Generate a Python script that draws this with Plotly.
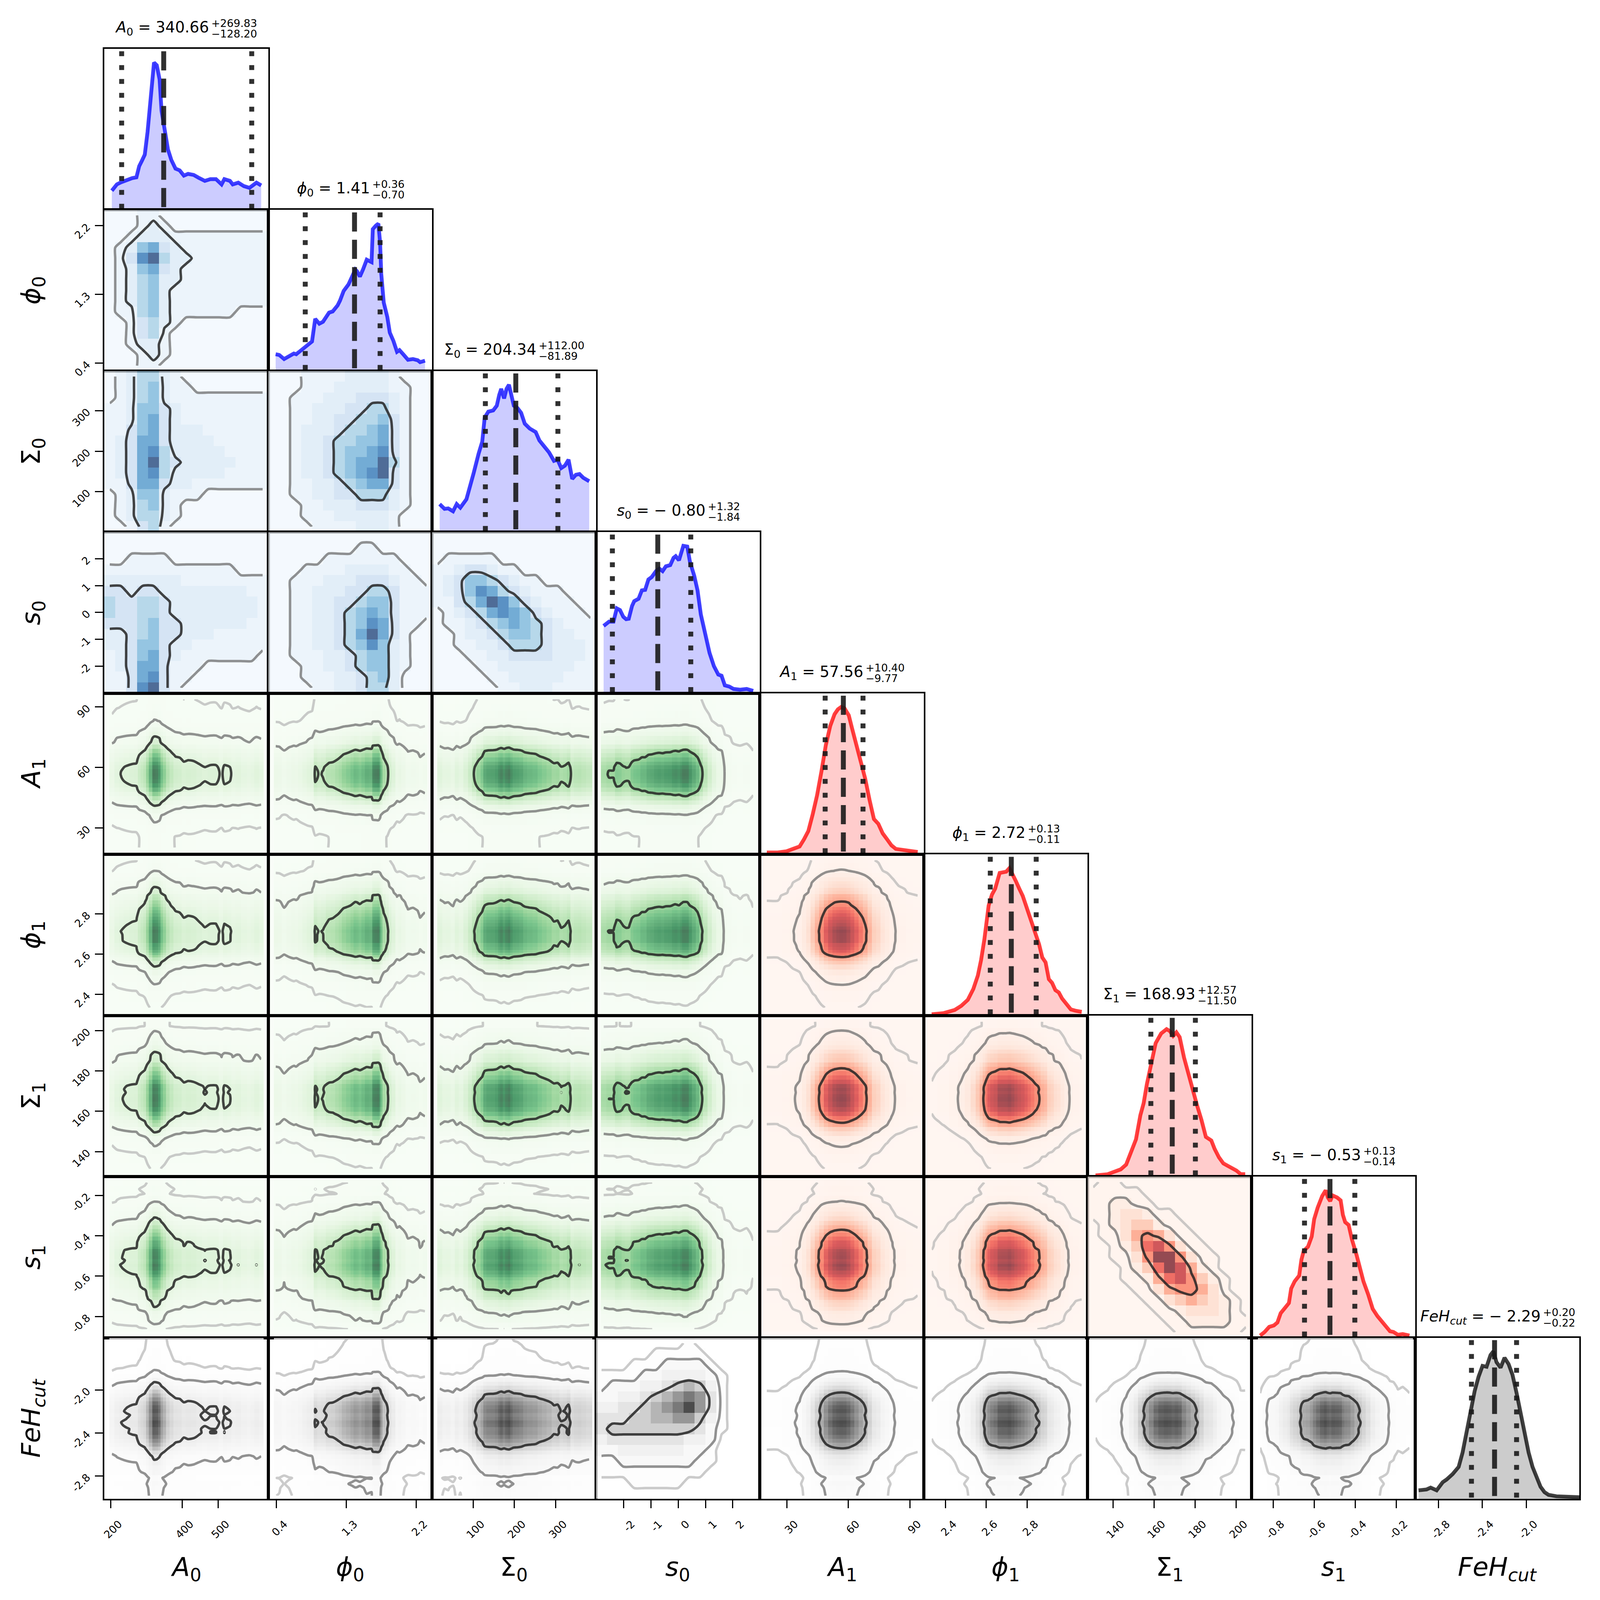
import numpy as np
import plotly.graph_objects as go

# ---------------------------------------------------------------- data
PARAM_SYMBOL = ["A", "ϕ", "Σ", "s", "A", "ϕ", "Σ", "s", "FeH"]
PARAM_INDEX = ["0", "0", "0", "0", "1", "1", "1", "1", "cut"]

MEDIAN = [340.66, 1.41, 204.34, -0.80, 57.56, 2.72, 168.93, -0.53, -2.29]
ERR_UP = [269.83, 0.36, 112.00, 1.32, 10.40, 0.13, 12.57, 0.13, 0.20]
ERR_DN = [128.20, 0.70, 81.89, 1.84, 9.77, 0.11, 11.50, 0.14, 0.22]

# vertical lines as drawn on the diagonal panels
Q_LO = [230.5, 0.774, 129.4, -2.409, 48.74, 2.620, 158.42, -0.647, -2.500]
Q_MID = [348.0, 1.408, 203.3, -0.747, 57.61, 2.723, 168.85, -0.523, -2.289]
Q_HI = [594.0, 1.737, 305.5, 0.461, 67.19, 2.845, 180.13, -0.402, -2.088]

AX_LO = [182.0, 0.297, 0.0, -3.01, 16.9, 2.294, 127.6, -0.905, -3.012]
AX_HI = [640.0, 2.406, 398.0, 2.99, 96.8, 3.097, 207.5, -0.107, -1.515]

TICK_VALS = [[200, 400, 500], [0.4, 1.3, 2.2], [100, 200, 300], [-2, -1, 0, 1, 2],
             [30, 60, 90], [2.4, 2.6, 2.8], [140, 160, 180, 200],
             [-0.8, -0.6, -0.4, -0.2], [-2.8, -2.4, -2.0]]
TICK_TEXT = [["200", "400", "500"], ["0.4", "1.3", "2.2"], ["100", "200", "300"],
             ["-2", "-1", "0", "1", "2"], ["30", "60", "90"], ["2.4", "2.6", "2.8"],
             ["140", "160", "180", "200"], ["-0.8", "-0.6", "-0.4", "-0.2"],
             ["-2.8", "-2.4", "-2.0"]]

# 1-D marginal curves (x position, height)
A0_X = [203.1, 217.1, 228.8, 244.4, 260.0, 271.7, 279.5, 287.3, 295.1, 302.9, 310.7, 320.9, 328.7,
        336.5, 342.0, 349.7, 359.9, 369.2, 381.0, 392.7, 404.4, 416.1, 431.7, 447.3, 462.9, 478.5,
        494.1, 509.7, 517.5, 533.1, 540.9, 556.5, 572.1, 587.7, 595.5, 607.2, 620.5]
A0_H = [55, 73, 79, 86, 91, 93, 125, 141, 158, 223, 313, 421, 413, 373, 283, 233, 173, 143, 118,
        113, 98, 103, 100, 91, 83, 88, 88, 73, 88, 83, 73, 78, 68, 63, 68, 78, 70]

PHI0_X = [0.393, 0.439, 0.502, 0.564, 0.627, 0.658, 0.705, 0.768, 0.815, 0.861, 0.902, 0.955, 1.002,
          1.080, 1.127, 1.190, 1.221, 1.268, 1.330, 1.377, 1.418, 1.440, 1.477, 1.518, 1.565, 1.627,
          1.643, 1.683, 1.715, 1.737, 1.752, 1.784, 1.830, 1.862, 1.909, 1.955, 1.987, 2.034, 2.096,
          2.159, 2.221, 2.252, 2.315]
PHI0_H = [70, 67, 50, 63, 73, 70, 83, 100, 115, 123, 217, 197, 205, 243, 248, 273, 293, 333, 360,
          390, 422, 415, 393, 423, 463, 453, 590, 605, 613, 535, 405, 285, 225, 160, 125, 80, 87,
          70, 47, 50, 45, 37, 43]

SIG0_X = [18.4, 30.3, 39.2, 50.9, 59.8, 68.6, 83.4, 92.3, 101.1, 113.0, 121.8, 127.7, 136.6, 148.4,
          157.2, 163.1, 167.9, 174.9, 180.8, 186.7, 192.7, 198.5, 207.4, 216.3, 225.1, 236.9, 251.7,
          260.6, 272.4, 284.2, 296.0, 304.8, 313.7, 322.6, 331.4, 340.3, 349.2, 358.0, 366.9, 381.6]
SIG0_H = [117, 97, 99, 87, 117, 102, 137, 187, 247, 327, 377, 477, 502, 507, 527, 572, 597, 557, 597,
          614, 567, 527, 517, 497, 452, 432, 417, 382, 357, 332, 297, 302, 267, 277, 302, 222, 239,
          242, 227, 212]

S0_X = [-2.730, -2.530, -2.369, -2.249, -2.129, -2.009, -1.906, -1.810, -1.690, -1.610, -1.450,
        -1.330, -1.210, -1.090, -0.971, -0.811, -0.691, -0.571, -0.451, -0.291, -0.171, -0.091,
        0.029, 0.109, 0.189, 0.333, 0.429, 0.589, 0.709, 0.829, 0.989, 1.148, 1.308, 1.468, 1.588,
        1.708, 1.868, 2.028, 2.267, 2.507, 2.747]
S0_H = [280, 298, 298, 353, 346, 318, 308, 310, 363, 383, 393, 428, 430, 473, 483, 508, 518, 508,
        528, 533, 563, 570, 553, 583, 613, 610, 548, 488, 428, 328, 238, 168, 113, 78, 73, 33, 28,
        18, 15, 18, 10]

A1_X = [20.28, 25.62, 29.88, 33.07, 36.27, 38.40, 40.53, 42.66, 44.80, 46.93, 49.06, 51.20, 53.33,
        54.93, 56.53, 58.13, 60.26, 61.86, 63.99, 66.12, 68.25, 70.39, 72.52, 74.66, 76.79, 78.93,
        81.05, 83.19, 86.38, 89.59, 93.85]
A1_H = [8, 8, 13, 23, 33, 63, 98, 168, 248, 348, 458, 538, 588, 608, 618, 613, 583, 528, 458, 388,
        318, 228, 148, 128, 88, 63, 38, 23, 18, 13, 10]

PHI1_X = [2.333, 2.392, 2.446, 2.478, 2.510, 2.537, 2.559, 2.575, 2.591, 2.601, 2.612, 2.628, 2.644,
          2.666, 2.682, 2.698, 2.714, 2.730, 2.746, 2.762, 2.779, 2.795, 2.811, 2.827, 2.843, 2.859,
          2.875, 2.891, 2.907, 2.923, 2.939, 2.956, 2.972, 2.993, 3.015, 3.036, 3.068]
PHI1_H = [5, 10, 23, 40, 65, 110, 165, 230, 315, 385, 455, 500, 525, 590, 593, 595, 610, 585, 555,
          525, 495, 455, 415, 375, 325, 295, 240, 220, 150, 135, 105, 95, 70, 45, 25, 20, 15]

SIG1_X = [131.47, 137.33, 140.52, 143.71, 146.38, 149.04, 151.17, 153.30, 154.90, 156.49, 158.63,
          160.76, 163.42, 166.09, 167.69, 169.28, 170.88, 172.47, 174.60, 176.74, 178.87, 180.99,
          183.12, 185.25, 187.91, 189.52, 191.64, 193.77, 195.90, 198.04, 200.17, 202.28, 204.42]
SIG1_H = [5, 10, 20, 30, 50, 105, 155, 255, 305, 385, 475, 555, 595, 613, 605, 585, 600, 580, 495,
          425, 365, 295, 235, 165, 150, 115, 80, 55, 45, 35, 25, 10, 10]

S1_X = [-0.863, -0.841, -0.819, -0.796, -0.779, -0.763, -0.740, -0.723, -0.712, -0.695, -0.673,
        -0.662, -0.651, -0.630, -0.612, -0.600, -0.583, -0.561, -0.544, -0.533, -0.522, -0.511,
        -0.488, -0.471, -0.460, -0.449, -0.432, -0.416, -0.393, -0.376, -0.360, -0.337, -0.315,
        -0.292, -0.270, -0.248, -0.231, -0.214, -0.192, -0.169, -0.136]
S1_H = [15, 40, 75, 85, 105, 170, 210, 240, 340, 390, 430, 540, 600, 630, 700, 820, 900, 980, 1020,
        970, 945, 985, 970, 950, 850, 800, 780, 680, 570, 480, 390, 300, 200, 150, 110, 80, 45, 40,
        20, 25, 15]

FEH_X = [-2.983, -2.910, -2.873, -2.818, -2.763, -2.727, -2.672, -2.617, -2.581, -2.544, -2.508,
         -2.471, -2.435, -2.399, -2.362, -2.326, -2.300, -2.271, -2.234, -2.198, -2.161, -2.125,
         -2.088, -2.051, -2.015, -1.978, -1.942, -1.906, -1.869, -1.833, -1.796, -1.723, -1.650,
         -1.577, -1.511]
FEH_H = [47, 52, 62, 47, 92, 107, 137, 177, 257, 377, 497, 597, 677, 737, 732, 797, 817, 757, 727,
         782, 747, 687, 587, 467, 357, 257, 177, 117, 67, 37, 22, 14, 12, 10, 9]

MARG_X = [A0_X, PHI0_X, SIG0_X, S0_X, A1_X, PHI1_X, SIG1_X, S1_X, FEH_X]
MARG_H = [A0_H, PHI0_H, SIG0_H, S0_H, A1_H, PHI1_H, SIG1_H, S1_H, FEH_H]

# shade codes of the 2-D histograms that are not simple products (15x15, top row first)
SHADE = [0.0, 0.02, 0.08, 0.15, 0.25, 0.38, 0.5, 0.65, 0.8, 1.0]

G_PHI0_A0 = ["111221111111111", "111232111111111", "112333222222222", "123674322222222",
             "124895332222222", "123674322222222", "123563322222222", "123563222222222",
             "123563222222222", "122563222222111", "112453211111111", "112452111111111",
             "112332111111111", "111232111111111", "111221111111111"]
G_SIG0_A0 = ["123553211111111", "123563221111111", "123563222222222", "223664322222222",
             "223674322222222", "224674333222222", "234774333322222", "234785333332222",
             "234795433333222", "234785333332222", "224774332222222", "123663222111111",
             "123563211111111", "123553211111111", "112452111111111"]
G_SIG0_PHI0 = ["111222233332111", "111222333332211", "112223334443211", "112233344553211",
               "112233445564211", "112333455674211", "112334556674211", "112334566784211",
               "112334567795211", "112334567894211", "112233456774211", "112233445553211",
               "111223334443211", "111222333332111", "111122223332111"]
G_S0_A0 = ["111111111111111", "111111111111111", "112222111111111", "222222222222111",
           "333333322222222", "443443333333322", "544554333333332", "544554333333332",
           "444564433333322", "334564433322222", "334664332222222", "234674322222221",
           "234774222111111", "224784221111111", "224894211111111"]
G_S0_PHI0 = ["111111111111111", "111111112211111", "111112222222111", "111222233332211",
             "112223334443221", "112233344554222", "112233445664222", "112233456764222",
             "112233456874221", "112233457974211", "112233456863211", "112223345663211",
             "111223345663211", "111222334563111", "111122334553111"]
G_S0_SIG0 = ["111111111111111", "111111111111111", "122222111111111", "223443221111111",
             "234665432211111", "234687543222111", "224579864322211", "123457876432221",
             "122345676543222", "112334566543322", "112233455543332", "111223344443332",
             "111122333333322", "111112233333222", "111111223332222"]
G_S1_SIG1 = ["011000000000000", "111110000000000", "112211000000000", "112332110000000",
             "012344211000000", "011356531100000", "001247863110000", "001136996311000",
             "000124798521000", "000112578642100", "000011356653100", "000001134543210",
             "000000112333210", "000000011222211", "000000001111110"]
G_FEH_S0 = ["000000001000000", "000001111100000", "000111222210000", "111122333321000",
            "122233456531000", "223345678741000", "334456789741000", "444556677531000",
            "455555555421000", "344444443320000", "223333332210000", "112222222110000",
            "111111111100000", "000111110000000", "000000000000000"]

GRIDS = {(1, 0): G_PHI0_A0, (2, 0): G_SIG0_A0, (2, 1): G_SIG0_PHI0, (3, 0): G_S0_A0,
         (3, 1): G_S0_PHI0, (3, 2): G_S0_SIG0, (7, 6): G_S1_SIG1, (8, 3): G_FEH_S0}

# ---------------------------------------------------------------- style / geometry
N = 9
FIG_W, FIG_H = 4090, 4090
ML, MR, MT, MB = 259, 55, 117, 261
PW = FIG_W - ML - MR
FONT = "DejaVu Sans"
FS_TITLE, FS_SCRIPT, FS_LABEL, FS_TICK = 39, 27, 66, 27
YTOP = 1.0 / 0.915

CMAPS = {
    "blue": ["#f7fbff", "#deebf7", "#c6dbef", "#9ecae1", "#6baed6", "#4292c6", "#2171b5", "#08519c", "#08306b"],
    "green": ["#f7fcf5", "#e5f5e0", "#c7e9c0", "#a1d99b", "#74c476", "#41ab5d", "#238b45", "#006d2c", "#00441b"],
    "red": ["#fff5f0", "#fee0d2", "#fcbba1", "#fc9272", "#fb6a4a", "#ef3b2c", "#cb181d", "#a50f15", "#67000d"],
    "grey": ["#ffffff", "#f0f0f0", "#d9d9d9", "#bdbdbd", "#969696", "#737373", "#525252", "#252525", "#000000"],
}
TINT = {"blue": "rgb(249,252,255)", "green": "rgb(249,253,248)", "red": "rgb(255,248,245)",
        "grey": "rgb(255,255,255)"}
DIAG_RGB = ["0,0,255"] * 4 + ["255,0,0"] * 4 + ["0,0,0"]
CONTOUR_FRACS = [0.995, 0.94, 0.55]
CONTOUR_COLS = ["rgba(175,175,175,0.65)", "rgba(110,110,110,0.75)", "rgba(35,35,35,0.85)"]


def group(r, c):
    if r == 8:
        return "grey"
    if r <= 3:
        return "blue"
    if c <= 3:
        return "green"
    return "red"


def cscale(name):
    cols = CMAPS[name]
    return [[k / (len(cols) - 1), col] for k, col in enumerate(cols)]


def levels_for(z, x, y, fracs):
    wx = np.gradient(np.asarray(x, float))
    wy = np.gradient(np.asarray(y, float))
    m = z * wy[:, None] * wx[None, :]
    zf = z.ravel()
    order = np.argsort(zf)[::-1]
    zs = zf[order]
    cs = np.cumsum(m.ravel()[order])
    cs = cs / cs[-1]
    ends = np.append(np.where(np.diff(zs) != 0)[0], len(zs) - 1)
    out = []
    for f in fracs:
        e = ends[int(np.argmin(np.abs(cs[ends] - f)))]
        lo = zs[e + 1] if e + 1 < len(zs) else 0.0
        out.append(0.5 * (zs[e] + lo))
    return out


def sym_html(i):
    s, sub = PARAM_SYMBOL[i], PARAM_INDEX[i]
    if s == "Σ":
        return f"Σ<sub>{sub}</sub>"
    if sub == "cut":
        return f"<i>{s}</i><sub><i>{sub}</i></sub>"
    return f"<i>{s}</i><sub>{sub}</sub>"


CW = {".": 0.318, " ": 0.318, "=": 0.838, "+": 0.838, "−": 0.838, "A": 0.684, "ϕ": 0.66,
      "Σ": 0.632, "s": 0.521, "F": 0.575, "e": 0.615, "H": 0.752, "c": 0.55, "u": 0.634, "t": 0.392}


def tw(s):
    return sum(CW.get(ch, 0.636) for ch in s)


def fmt_val(v):
    return ("− " if v < 0 else "") + f"{abs(v):.2f}"


# ---------------------------------------------------------------- figure
fig = go.Figure()
layout = {}
shapes = []
annotations = []
frame = dict(showline=True, mirror=True, linecolor="black", linewidth=4.4, showgrid=False,
             zeroline=False, ticklen=20, tickwidth=3, tickcolor="black",
             tickfont=dict(family=FONT, size=FS_TICK, color="black"))

k = 0
for r in range(N):
    for c in range(r + 1):
        k += 1
        sfx = "" if k == 1 else str(k)
        xr, yr = "x" + sfx, "y" + sfx
        xa = dict(frame, domain=[c / N, (c + 1) / N], anchor=yr,
                  range=[AX_LO[c], AX_HI[c]])
        ya = dict(frame, domain=[1 - (r + 1) / N, 1 - r / N], anchor=xr)
        if r == N - 1:
            xa.update(ticks="outside", showticklabels=True, tickmode="array",
                      tickvals=TICK_VALS[c], ticktext=TICK_TEXT[c], tickangle=-45,
                      ticklabelshift=21, ticklabelstandoff=14)
        else:
            xa.update(ticks="", showticklabels=False)
        if r == c:
            ya.update(range=[0, YTOP], ticks="", showticklabels=False)
        else:
            ya.update(range=[AX_LO[r], AX_HI[r]])
            if c == 0:
                ya.update(ticks="outside", showticklabels=True, tickmode="array",
                          tickvals=TICK_VALS[r], ticktext=TICK_TEXT[r], tickangle=-45,
                          ticklabelstandoff=14)
            else:
                ya.update(ticks="", showticklabels=False)
        layout["xaxis" + sfx] = xa
        layout["yaxis" + sfx] = ya

        if r == c:
            hx = np.asarray(MARG_H[c], float)
            hx = hx / hx.max()
            rgb = DIAG_RGB[c]
            fig.add_trace(go.Scatter(x=MARG_X[c], y=hx, mode="lines",
                                     line=dict(color=f"rgba({rgb},0.75)", width=9.7),
                                     fill="tozeroy", fillcolor=f"rgba({rgb},0.2)",
                                     xaxis=xr, yaxis=yr, hoverinfo="skip"))
            for q, dash in ((Q_LO[c], "12.5px,23px"), (Q_HI[c], "12.5px,23px"), (Q_MID[c], "49px,21px")):
                fig.add_trace(go.Scatter(x=[q, q], y=[YTOP * 0.985, 0], mode="lines",
                                         line=dict(color="rgba(25,25,25,0.9)", width=12.6, dash=dash),
                                         xaxis=xr, yaxis=yr, hoverinfo="skip"))
            # title
            w_main = (tw(PARAM_SYMBOL[c]) + 0.7 * tw(PARAM_INDEX[c]) + tw(" = " + fmt_val(MEDIAN[c]))) * FS_TITLE
            up, dn = f"+{ERR_UP[c]:.2f}", f"−{ERR_DN[c]:.2f}"
            w_scr = max(tw(up), tw(dn)) * FS_SCRIPT
            split = (c + 0.5) / N + 0.5 * (w_main - w_scr) / PW
            ytop = 1 - r / N
            annotations.append(dict(x=split, y=ytop, xref="paper", yref="paper", xanchor="right",
                                    yanchor="middle", yshift=53, showarrow=False,
                                    text=sym_html(c) + " = " + fmt_val(MEDIAN[c]),
                                    font=dict(family=FONT, size=FS_TITLE, color="black")))
            annotations.append(dict(x=split, y=ytop, xref="paper", yref="paper", xanchor="left",
                                    yanchor="middle", yshift=65.5, xshift=2, showarrow=False, text=up,
                                    font=dict(family=FONT, size=FS_SCRIPT, color="black")))
            annotations.append(dict(x=split, y=ytop, xref="paper", yref="paper", xanchor="left",
                                    yanchor="middle", yshift=38.5, xshift=2, showarrow=False, text=dn,
                                    font=dict(family=FONT, size=FS_SCRIPT, color="black")))
            continue

        g = group(r, c)
        shapes.append(dict(type="rect", xref=xr + " domain", yref=yr + " domain", x0=0, x1=1,
                           y0=0, y1=1, fillcolor=TINT[g], line=dict(width=0), layer="below"))
        if (r, c) in GRIDS:
            rows = GRIDS[(r, c)]
            z = np.array([[SHADE[int(ch)] for ch in row] for row in rows], float)[::-1]
            nx, ny = z.shape[1], z.shape[0]
            x = AX_LO[c] + (np.arange(nx) + 0.5) * (AX_HI[c] - AX_LO[c]) / nx
            y = AX_LO[r] + (np.arange(ny) + 0.5) * (AX_HI[r] - AX_LO[r]) / ny
        else:
            hx = np.asarray(MARG_H[c], float)
            hy = np.asarray(MARG_H[r], float)
            z = np.outer(hy / hy.max(), hx / hx.max())
            x = np.asarray(MARG_X[c], float)
            y = np.asarray(MARG_X[r], float)
        fig.add_trace(go.Heatmap(x=x, y=y, z=z, zmin=0, zmax=float(z.max()), colorscale=cscale(g),
                                 opacity=0.7, showscale=False, xaxis=xr, yaxis=yr, hoverinfo="skip"))
        for lev, col in zip(levels_for(z, x, y, CONTOUR_FRACS), CONTOUR_COLS):
            fig.add_trace(go.Contour(x=x, y=y, z=z, autocontour=False,
                                     contours=dict(start=lev, end=lev, size=1, coloring="none"),
                                     line=dict(color=col, width=6.3, smoothing=0.7),
                                     showscale=False, xaxis=xr, yaxis=yr, hoverinfo="skip"))

# axis labels
for i in range(N):
    annotations.append(dict(x=(i + 0.5) / N, y=0, xref="paper", yref="paper", xanchor="center",
                            yanchor="middle", yshift=-179, showarrow=False, text=sym_html(i),
                            font=dict(family=FONT, size=FS_LABEL, color="black")))
    if i > 0:
        annotations.append(dict(x=0, y=1 - (i + 0.5) / N, xref="paper", yref="paper",
                                xanchor="center", yanchor="middle", xshift=-183, textangle=-90,
                                showarrow=False, text=sym_html(i),
                                font=dict(family=FONT, size=FS_LABEL, color="black")))

fig.update_layout(width=FIG_W, height=FIG_H, autosize=False, template="none",
                  margin=dict(l=ML, r=MR, t=MT, b=MB, pad=0),
                  paper_bgcolor="white", plot_bgcolor="white", showlegend=False,
                  font=dict(family=FONT, color="black"), shapes=shapes,
                  annotations=annotations, **layout)
fig.write_html("out.html")
